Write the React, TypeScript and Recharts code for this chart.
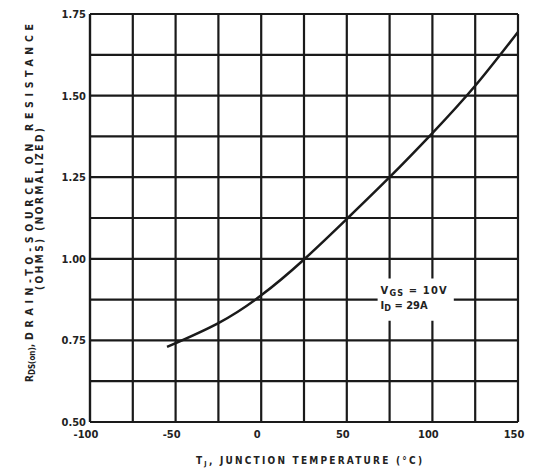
import React from "react";
import {
  LineChart,
  Line,
  XAxis,
  YAxis,
  CartesianGrid,
  ReferenceArea,
} from "recharts";

// Normalized on-resistance vs. junction temperature
const temperatures = [-55, -25, 0, 25, 50, 75, 100, 125, 150];
const resistance = [0.73, 0.803, 0.888, 0.998, 1.122, 1.25, 1.385, 1.53, 1.695];

const xTicks = [-100, -75, -50, -25, 0, 25, 50, 75, 100, 125, 150];
const yTicks = [0.5, 0.625, 0.75, 0.875, 1.0, 1.125, 1.25, 1.375, 1.5, 1.625, 1.75];

const xTickLabels = ["-100", "", "-50", "", "0", "", "50", "", "100", "", "150"];
const yTickLabels = ["0.50", "", "0.75", "", "1.00", "", "1.25", "", "1.50", "", "1.75"];

const data = temperatures.map((t, i) => ({ t, r: resistance[i] }));

const FONT = "'DejaVu Sans Condensed', 'Liberation Sans Narrow', 'DejaVu Sans', sans-serif";
const INK = "#1a1a1a";
const TEXT = "#222";

const XTitle = (props: any) => {
  const vb = props.viewBox || {};
  const cx = vb.x + vb.width / 2 + 5;
  const y = vb.y + 42;
  return (
    <text
      x={cx}
      y={y}
      textAnchor="middle"
      fontFamily={FONT}
      fontWeight="bold"
      fontSize={10}
      fill={TEXT}
      textLength={226}
      lengthAdjust="spacing"
    >
      T<tspan fontSize={7} dy={2}>J</tspan>
      <tspan dy={-2}>, JUNCTION TEMPERATURE (°C)</tspan>
    </text>
  );
};

const YTitle = (props: any) => {
  const vb = props.viewBox || {};
  const cy = vb.y + vb.height / 2;
  const x1 = 25;
  const x2 = 35;
  const start = vb.y + vb.height - 40;
  const rest = start - 42;
  const c2 = cy - 9;
  return (
    <g fontFamily={FONT} fontWeight="bold" fill={TEXT}>
      <text
        x={x1}
        y={start}
        fontSize={10}
        textAnchor="start"
        transform={`rotate(-90, ${x1}, ${start})`}
      >
        R<tspan fontSize={8} dy={2}>DS(on)</tspan>
        <tspan dy={-2}>,</tspan>
      </text>
      <text
        x={x1}
        y={rest}
        fontSize={10.5}
        textAnchor="start"
        transform={`rotate(-90, ${x1}, ${rest})`}
        textLength={316}
        lengthAdjust="spacing"
      >
        DRAIN-TO-SOURCE ON RESISTANCE
      </text>
      <text
        x={x2}
        y={c2}
        fontSize={10}
        textAnchor="middle"
        transform={`rotate(-90, ${x2}, ${c2})`}
        textLength={162}
        lengthAdjust="spacing"
      >
        (OHMS) (NORMALIZED)
      </text>
    </g>
  );
};

const ConditionsLabel = (props: any) => {
  const vb = props.viewBox || {};
  const x = vb.x + 3;
  const y = vb.y;
  return (
    <g fontFamily={FONT} fontWeight="bold" fontSize={11} fill={TEXT}>
      <text x={x} y={y + 16} textLength={66} lengthAdjust="spacing">
        V<tspan fontSize={9} dy={2}>GS</tspan>
        <tspan dy={-2}> = 10V</tspan>
      </text>
      <text x={x} y={y + 31}>
        I<tspan fontSize={9} dy={2}>D</tspan>
        <tspan dy={-2}> = 29A</tspan>
      </text>
    </g>
  );
};

export default function App() {
  return (
    <LineChart
      width={526}
      height={461}
      data={data}
      margin={{ top: 6, right: 16, bottom: 17, left: 42 }}
    >
      <CartesianGrid stroke={INK} strokeWidth={2.2} />
      <XAxis
        type="number"
        dataKey="t"
        domain={[-100, 150]}
        ticks={xTicks}
        interval={0}
        tickFormatter={(v: number) => xTickLabels[xTicks.indexOf(v)] ?? ""}
        tickLine={false}
        tickSize={0}
        tickMargin={8}
        axisLine={{ stroke: INK, strokeWidth: 2.2 }}
        tick={{ fontFamily: FONT, fontWeight: "bold", fontSize: 11, fill: TEXT, dx: -4 }}
        height={30}
        label={{ content: XTitle }}
        allowDataOverflow
      />
      <YAxis
        type="number"
        domain={[0.5, 1.75]}
        ticks={yTicks}
        interval={0}
        tickFormatter={(v: number) => yTickLabels[yTicks.indexOf(v)] ?? ""}
        tickLine={false}
        tickSize={0}
        tickMargin={4}
        axisLine={{ stroke: INK, strokeWidth: 2.2 }}
        tick={{ fontFamily: FONT, fontWeight: "bold", fontSize: 11, fill: TEXT }}
        width={40}
        label={{ content: YTitle }}
        allowDataOverflow
      />
      <ReferenceArea
        x1={68}
        x2={112.5}
        y1={0.81}
        y2={0.94}
        fill="#fff"
        fillOpacity={1}
        stroke="none"
        label={{ content: ConditionsLabel }}
      />
      <Line
        type="natural"
        dataKey="r"
        stroke={INK}
        strokeWidth={2.5}
        dot={false}
        isAnimationActive={false}
      />
    </LineChart>
  );
}
